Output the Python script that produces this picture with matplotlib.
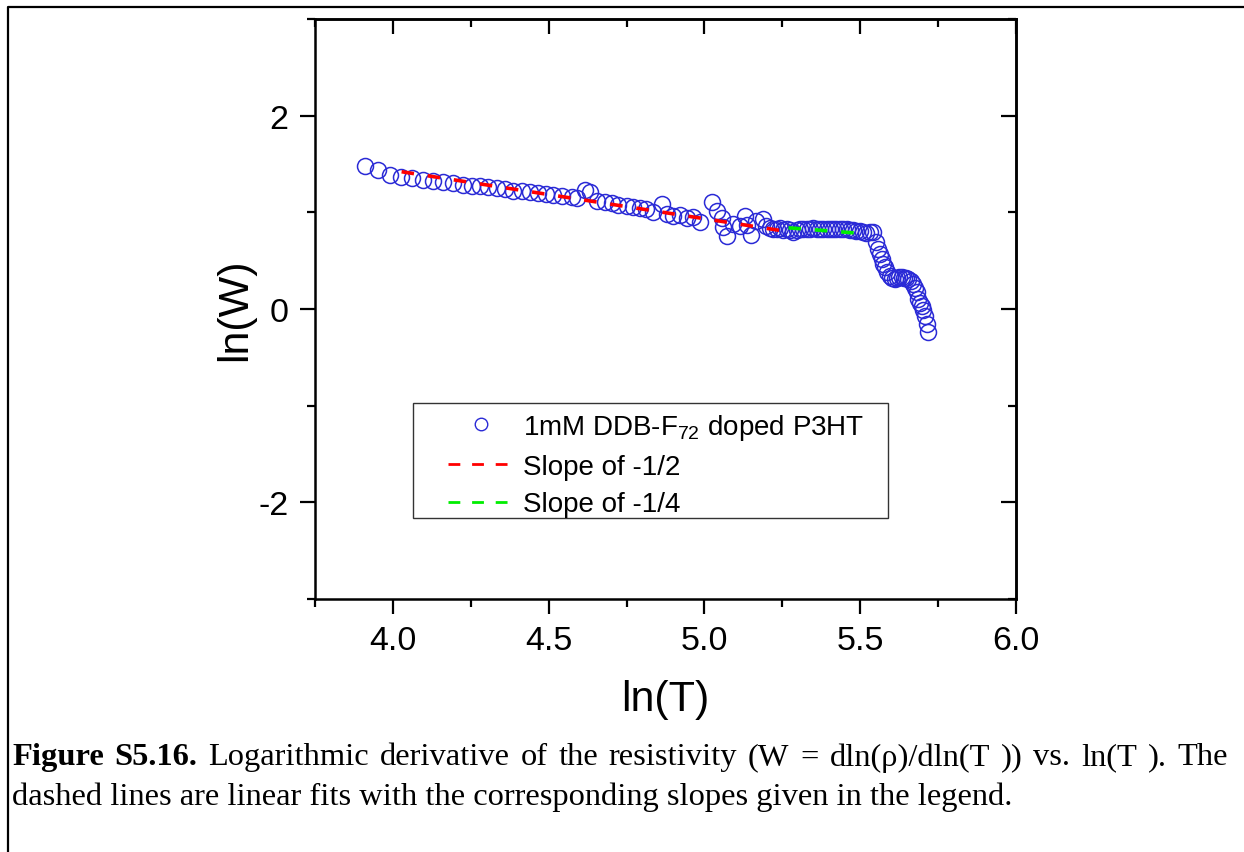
import matplotlib
matplotlib.use("Agg")
import matplotlib.pyplot as plt
from matplotlib.lines import Line2D
from matplotlib.patches import Rectangle
from matplotlib.ticker import MultipleLocator, FormatStrFormatter
import numpy as np

# ln(T) and ln(W) for the 1 mM DDB-F72 doped P3HT film
ln_T = [3.910, 3.953, 3.991, 4.025, 4.060, 4.096, 4.130, 4.162, 4.194, 4.226,
        4.253, 4.280, 4.306, 4.333, 4.360, 4.386, 4.413, 4.440, 4.467, 4.490,
        4.515, 4.542, 4.574, 4.590, 4.617, 4.633, 4.654, 4.681, 4.702, 4.723,
        4.750, 4.771, 4.793, 4.814, 4.836, 4.863, 4.879, 4.900, 4.921, 4.943,
        4.964, 4.986, 5.023, 5.039, 5.055, 5.061, 5.074, 5.092, 5.114, 5.130,
        5.135, 5.151, 5.167, 5.189, 5.196, 5.210, 5.221, 5.232, 5.242, 5.253,
        5.264, 5.275, 5.285, 5.296, 5.306, 5.317, 5.328, 5.338, 5.349, 5.360,
        5.371, 5.381, 5.392, 5.402, 5.412, 5.423, 5.435, 5.445, 5.456, 5.466,
        5.477, 5.488, 5.499, 5.510, 5.520, 5.531, 5.542, 5.552, 5.558, 5.564,
        5.569, 5.574, 5.579, 5.587, 5.595, 5.603, 5.611, 5.618, 5.626, 5.633,
        5.640, 5.647, 5.654, 5.662, 5.670, 5.676, 5.681, 5.686, 5.692, 5.697,
        5.703, 5.708, 5.713, 5.718]
ln_W = [1.482, 1.441, 1.389, 1.362, 1.352, 1.337, 1.320, 1.310, 1.299, 1.285,
        1.275, 1.268, 1.258, 1.248, 1.241, 1.223, 1.217, 1.213, 1.197, 1.185,
        1.179, 1.172, 1.155, 1.145, 1.234, 1.206, 1.120, 1.103, 1.093, 1.079,
        1.068, 1.058, 1.045, 1.034, 1.000, 1.086, 0.979, 0.962, 0.969, 0.945,
        0.955, 0.896, 1.103, 1.017, 0.937, 0.845, 0.752, 0.879, 0.862, 0.965,
        0.869, 0.765, 0.913, 0.931, 0.862, 0.835, 0.827, 0.830, 0.834, 0.822,
        0.827, 0.815, 0.800, 0.818, 0.827, 0.830, 0.827, 0.832, 0.834, 0.830,
        0.827, 0.832, 0.830, 0.828, 0.830, 0.826, 0.830, 0.824, 0.825, 0.818,
        0.820, 0.808, 0.810, 0.800, 0.790, 0.800, 0.793, 0.690, 0.620, 0.570,
        0.517, 0.470, 0.431, 0.380, 0.345, 0.320, 0.310, 0.325, 0.330, 0.328,
        0.325, 0.318, 0.310, 0.290, 0.258, 0.215, 0.172, 0.103, 0.065, 0.034,
        -0.010, -0.069, -0.150, -0.241]

# Linear fits: slope, x-range and the ln(W) value at the start of the range
fit_slopes = [-0.5, -0.25]
fit_x_ranges = [(4.028, 5.264), (5.270, 5.490)]
fit_y_start = [1.420, 0.840]
fit_colors = ["#ff0000", "#00ee00"]
fit_labels = ["Slope of -1/2", "Slope of -1/4"]

data_label = "1mM DDB-F$_{72}$ doped P3HT"
caption_bold = "Figure S5.16."
caption_rest = ("Logarithmic derivative of the resistivity (W = dln(\u03c1)/dln(T )) "
                "vs. ln(T ). The")
caption_line2 = "dashed lines are linear fits with the corresponding slopes given in the legend."

plt.rcParams["font.family"] = ["Liberation Sans", "DejaVu Sans"]
plt.rcParams["mathtext.fontset"] = "custom"
plt.rcParams["mathtext.rm"] = "Liberation Sans"
plt.rcParams["mathtext.default"] = "regular"
plt.rcParams["lines.scale_dashes"] = False

W, H = 1244, 853
fig = plt.figure(figsize=(W / 100, H / 100), dpi=100)
ax = fig.add_axes([315 / W, 1 - 600 / H, 701 / W, 580 / H])

ax.plot(ln_T, ln_W, linestyle="none", marker="o", markersize=11.5,
        markerfacecolor="none", markeredgecolor="#2a2ad6", markeredgewidth=1.1,
        zorder=2)

fit_handles = []
for slope, (x0, x1), y0, col, lab in zip(fit_slopes, fit_x_ranges, fit_y_start,
                                         fit_colors, fit_labels):
    xs = np.array([x0, x1])
    ys = y0 + slope * (xs - x0)
    ax.plot(xs, ys, color=col, linewidth=2.6, dashes=(9, 10), zorder=3)
    fit_handles.append(Line2D([], [], color=col, linewidth=2.0, dashes=(8.5, 8.5)))

ax.set_xlim(3.75, 6.0)
ax.set_ylim(-3, 3)
ax.xaxis.set_major_locator(MultipleLocator(0.5))
ax.xaxis.set_minor_locator(MultipleLocator(0.25))
ax.yaxis.set_major_locator(MultipleLocator(2))
ax.yaxis.set_minor_locator(MultipleLocator(1))
ax.xaxis.set_major_formatter(FormatStrFormatter("%.1f"))
ax.yaxis.set_major_formatter(FormatStrFormatter("%d"))

for sp in ax.spines.values():
    sp.set_linewidth(1.8)
ax.tick_params(which="major", direction="out", length=11, width=1.6,
               labelsize=24.5, pad=8)
ax.tick_params(which="minor", direction="out", length=5.5, width=1.6)

# inward ticks on the top and right sides
top = ax.secondary_xaxis("top")
top.xaxis.set_major_locator(MultipleLocator(0.5))
top.xaxis.set_minor_locator(MultipleLocator(0.25))
top.tick_params(which="major", direction="in", length=11, width=1.6, labeltop=False)
top.tick_params(which="minor", direction="in", length=5.5, width=1.6)
top.spines["top"].set_linewidth(1.8)
right = ax.secondary_yaxis("right")
right.yaxis.set_major_locator(MultipleLocator(2))
right.yaxis.set_minor_locator(MultipleLocator(1))
right.tick_params(which="major", direction="in", length=11, width=1.6, labelright=False)
right.tick_params(which="minor", direction="in", length=5.5, width=1.6)
right.spines["right"].set_linewidth(1.8)

ax.set_xlabel("ln(T)", fontsize=31, labelpad=16)
ax.set_ylabel("ln(W)", fontsize=31, labelpad=2)

# legend with a plain rectangular frame
data_handle = Line2D([], [], linestyle="none", marker="o", markersize=9,
                     markerfacecolor="none", markeredgecolor="#2a2ad6",
                     markeredgewidth=1.0)
leg = ax.legend([data_handle] + fit_handles, [data_label] + fit_labels,
                loc="upper left", bbox_to_anchor=((448 - 315) / 701, (600 - 413) / 580),
                frameon=False, fontsize=20, handlelength=2.4, handletextpad=0.3,
                labelspacing=0.42, borderpad=0, borderaxespad=0)
ax.add_patch(Rectangle(((413 - 315) / 701, (600 - 519) / 580), 475 / 701, 115 / 580,
                       transform=ax.transAxes, fill=False, edgecolor="#333333",
                       linewidth=1.0, zorder=5))

# caption: justified first line, natural second line
cap_font = ["Liberation Serif", "DejaVu Serif"]
cap_size = 23.4
left_px, right_px = 12, 1228
y1, y2 = 1 - 758 / H, 1 - 797 / H

renderer = fig.canvas.get_renderer()
words = [(w, "bold") for w in caption_bold.split()] + \
        [(w, "normal") for w in caption_rest.split(" ")]
texts = [fig.text(0, y1, w, fontsize=cap_size, fontweight=wt, family=cap_font,
                  va="center", ha="left") for w, wt in words]
widths = [t.get_window_extent(renderer).width for t in texts]
gap = (right_px - left_px - sum(widths)) / (len(texts) - 1)
x = left_px
for t, wd in zip(texts, widths):
    t.set_x(x / W)
    x += wd + gap
fig.text(left_px / W, y2, caption_line2, fontsize=cap_size, family=cap_font,
         va="center", ha="left")

# page frame
fig.add_artist(Line2D([8 / W, 8 / W, 1.0], [0.0, 1 - 8 / H, 1 - 8 / H],
                      transform=fig.transFigure, color="black", linewidth=1.6))

fig.savefig("out.png", dpi=100)
